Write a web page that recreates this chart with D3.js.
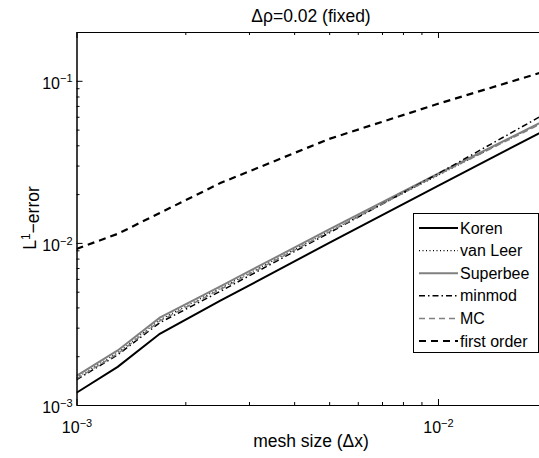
<!DOCTYPE html>
<html><head><meta charset="utf-8">
<script src="https://cdn.jsdelivr.net/npm/d3@7"></script>
<style>body{margin:0;background:#fff} svg{display:block} text{font-family:"Liberation Sans",Arial,Helvetica,sans-serif;fill:#000}</style>
</head><body><svg id="c" width="539" height="458"></svg>
<script>
// ---- data ----
const meshSize   = [0.001, 0.0013, 0.0017, 0.0025, 0.005, 0.01, 0.02];
const koren      = [0.00119, 0.00172, 0.00275, 0.00440, 0.0100, 0.0225, 0.0502];
const vanLeer    = [0.00147, 0.00210, 0.00335, 0.00525, 0.01178, 0.0261, 0.0574];
const superbee   = [0.00151, 0.00217, 0.00346, 0.00540, 0.0121, 0.0267, 0.0578];
const minmod     = [0.00143, 0.00204, 0.00322, 0.00503, 0.01153, 0.0267, 0.0634];
const mc         = [0.00145, 0.00207, 0.00330, 0.00517, 0.0117, 0.0263, 0.0566];
const firstOrder = [0.00918, 0.01137, 0.0153, 0.0234, 0.0438, 0.0721, 0.1153];
const seriesNames = ["Koren", "van Leer", "Superbee", "minmod", "MC", "first order"];
const xMajorTicks = [1e-3, 1e-2];
const yMajorTicks = [1e-3, 1e-2, 1e-1];
const tickExponents = {"0.001": "\u22123", "0.01": "\u22122", "0.1": "\u22121"};

// ---- layout ----
const svg = d3.select("#c");
const L = 76.5, T = 32, R = 546.8, B = 405;
const x = d3.scaleLog().domain([1e-3, 2e-2]).range([L, R]);
const y = d3.scaleLog().domain([1e-3, 0.2]).range([B, T]);

const styles = [
  {color: "#000", width: 2, dash: null},
  {color: "#000", width: 1.2, dash: "1,2.5"},
  {color: "#808080", width: 2, dash: null},
  {color: "#000", width: 1.5, dash: "6,3,1.5,3"},
  {color: "#808080", width: 1.5, dash: "6,4"},
  {color: "#000", width: 2.2, dash: "7,5"}
];
const allSeries = [koren, vanLeer, superbee, minmod, mc, firstOrder];

// minor ticks
const xMinor = [], yMinor = [];
for (let d = 1e-3; d < 0.05; d *= 10) for (let k = 2; k <= 9; k++) { const v = k * d; if (v <= 2e-2 + 1e-12) xMinor.push(v); }
for (let d = 1e-3; d < 0.5; d *= 10) for (let k = 2; k <= 9; k++) { const v = k * d; if (v <= 0.2 + 1e-12) yMinor.push(v); }

svg.append("clipPath").attr("id", "pc").append("rect")
  .attr("x", L).attr("y", T).attr("width", R - L).attr("height", B - T);

// lines
const line = d3.line().x((d, i) => x(meshSize[i])).y(d => y(d));
const g = svg.append("g").attr("clip-path", "url(#pc)");
allSeries.forEach((s, i) => {
  g.append("path").datum(s).attr("d", line)
    .attr("fill", "none").attr("stroke", styles[i].color)
    .attr("stroke-width", styles[i].width)
    .attr("stroke-dasharray", styles[i].dash);
});

// axes
function axisStyle(sel) {
  sel.selectAll(".domain").attr("stroke", "#000").attr("stroke-width", 1);
  sel.selectAll(".tick line").attr("stroke", "#000").attr("stroke-width", 1);
}
function noLabels(a) { return a.tickFormat(() => ""); }

svg.append("g").attr("transform", `translate(0,${B})`)
  .call(noLabels(d3.axisBottom(x).tickValues(xMinor).tickSizeInner(-3).tickSizeOuter(0))).call(axisStyle);
const xa = svg.append("g").attr("transform", `translate(0,${B})`)
  .call(d3.axisBottom(x).tickValues(xMajorTicks).tickSizeInner(-6).tickSizeOuter(0)).call(axisStyle);
svg.append("g").attr("transform", `translate(0,${T})`)
  .call(noLabels(d3.axisTop(x).tickValues(xMinor).tickSizeInner(-3).tickSizeOuter(0))).call(axisStyle);
svg.append("g").attr("transform", `translate(0,${T})`)
  .call(noLabels(d3.axisTop(x).tickValues(xMajorTicks).tickSizeInner(-6).tickSizeOuter(0))).call(axisStyle);

svg.append("g").attr("transform", `translate(${L},0)`)
  .call(noLabels(d3.axisLeft(y).tickValues(yMinor).tickSizeInner(-3).tickSizeOuter(0))).call(axisStyle);
const ya = svg.append("g").attr("transform", `translate(${L},0)`)
  .call(d3.axisLeft(y).tickValues(yMajorTicks).tickSizeInner(-6).tickSizeOuter(0)).call(axisStyle);
svg.append("g").attr("transform", `translate(${R},0)`)
  .call(noLabels(d3.axisRight(y).tickValues(yMinor).tickSizeInner(-3).tickSizeOuter(0))).call(axisStyle);

// tick labels with superscripts
function powLabel(t, v) {
  t.text(null);
  t.append("tspan").text("10");
  t.append("tspan").attr("dy", "-0.55em").attr("font-size", "11px").text(tickExponents[String(v)]);
}
xa.selectAll(".tick text").each(function(v) {
  const t = d3.select(this).attr("y", 28).attr("dy", null).attr("font-size", "16px").attr("font-family", null)
    .attr("text-anchor", "middle");
  powLabel(t, v);
});
ya.selectAll(".tick text").each(function(v) {
  const t = d3.select(this).attr("x", -4).attr("dy", "0.45em").attr("font-size", "16px").attr("font-family", null)
    .attr("text-anchor", "end");
  powLabel(t, v);
});

// title and labels
svg.append("text").attr("x", 311).attr("y", 22).attr("text-anchor", "middle")
  .attr("font-size", "17.5px").text("\u0394\u03c1=0.02 (fixed)");
svg.append("text").attr("x", 311).attr("y", 447).attr("text-anchor", "middle")
  .attr("font-size", "17.5px").text("mesh size (\u0394x)");
const yl = svg.append("text").attr("transform", "translate(36,218) rotate(-90)").attr("text-anchor", "middle")
  .attr("font-size", "17.5px");
yl.append("tspan").text("L");
yl.append("tspan").attr("dy", "-0.5em").attr("font-size", "12px").text("1");
yl.append("tspan").attr("dy", "0.5em").text("\u2212error");

// legend
const lg = svg.append("g");
lg.append("rect").attr("x", 413.5).attr("y", 213.5).attr("width", 125).attr("height", 139)
  .attr("fill", "#fff").attr("stroke", "#000").attr("stroke-width", 1);
seriesNames.forEach((n, i) => {
  const yy = 228 + i * 22.6;
  lg.append("line").attr("x1", 419).attr("x2", 458).attr("y1", yy).attr("y2", yy)
    .attr("stroke", styles[i].color).attr("stroke-width", styles[i].width)
    .attr("stroke-dasharray", styles[i].dash);
  lg.append("text").attr("x", 460).attr("y", yy).attr("dy", "0.35em").attr("font-size", "16px").text(n);
});
</script></body></html>
